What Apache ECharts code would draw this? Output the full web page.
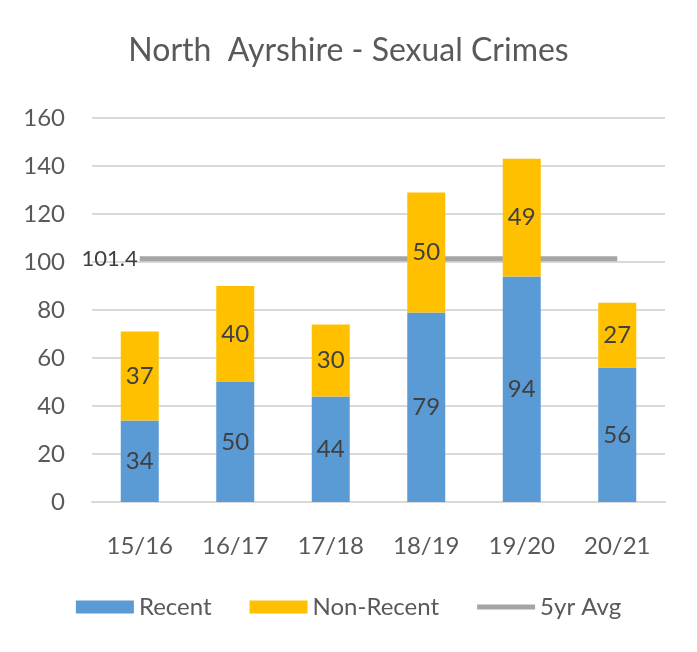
<!DOCTYPE html>
<html>
<head>
<meta charset="utf-8">
<script src="https://cdn.jsdelivr.net/npm/echarts@6/dist/echarts.min.js"></script>
<style>
  html, body { margin: 0; padding: 0; background: #fff; }
  #chart { width: 697px; height: 652px; }
</style>
</head>
<body>
<div id="chart"></div>
<script>
const categories = ["15/16", "16/17", "17/18", "18/19", "19/20", "20/21"];
const recent = [34, 50, 44, 79, 94, 56];
const nonRecent = [37, 40, 30, 50, 49, 27];
const avgValue = 101.4;
const avgLine = categories.map(() => avgValue);

const font = "Lato, 'Open Sans', sans-serif";
const chart = echarts.init(document.getElementById("chart"));

chart.setOption({
  backgroundColor: "#fff",
  textStyle: { fontFamily: font },
  title: {
    text: "North  Ayrshire - Sexual Crimes",
    left: "center",
    top: 30,
    textStyle: { fontSize: 32, fontWeight: "normal", color: "#595959", fontFamily: font }
  },
  legend: {
    bottom: 28,
    left: "center",
    itemWidth: 58,
    itemHeight: 13,
    itemGap: 38,
    textStyle: { fontSize: 24, color: "#595959", fontFamily: font },
    data: [
      { name: "Recent", icon: "rect" },
      { name: "Non-Recent", icon: "rect" },
      { name: "5yr Avg", icon: "path://M0,0 L60,0 L60,5 L0,5 Z", itemStyle: { color: "#A5A5A5" } }
    ]
  },
  grid: { left: 92, right: 32, top: 118, bottom: 150, containLabel: false },
  xAxis: {
    type: "category",
    data: categories,
    axisLine: { lineStyle: { color: "#d9d9d9", width: 2 } },
    axisTick: { show: false },
    axisLabel: { fontSize: 24, color: "#595959", margin: 32, fontFamily: font }
  },
  yAxis: {
    type: "value",
    min: 0,
    max: 160,
    interval: 20,
    axisLine: { show: false },
    axisTick: { show: false },
    axisLabel: { fontSize: 24, color: "#595959", margin: 27, fontFamily: font },
    splitLine: { lineStyle: { color: "#d9d9d9", width: 2 } }
  },
  series: [
    {
      name: "Recent",
      type: "bar",
      stack: "total",
      barWidth: 38,
      data: recent,
      itemStyle: { color: "#5B9BD5" },
      label: { show: true, position: "inside", fontSize: 24, color: "#404040", fontFamily: font }
    },
    {
      name: "Non-Recent",
      type: "bar",
      stack: "total",
      barWidth: 38,
      data: nonRecent,
      itemStyle: { color: "#FFC000" },
      label: { show: true, position: "inside", fontSize: 24, color: "#404040", fontFamily: font }
    },
    {
      name: "5yr Avg",
      type: "line",
      data: avgLine,
      symbol: "circle",
      symbolSize: 0,
      showSymbol: true,
      z: 1,
      lineStyle: { color: "#A5A5A5", width: 5 },
      itemStyle: { color: "#A5A5A5" },
      label: {
        show: true,
        position: "left",
        distance: 2,
        fontSize: 22,
        color: "#404040",
        fontFamily: font,
        formatter: (p) => (p.dataIndex === 0 ? String(avgValue) : "")
      }
    }
  ]
});
</script>
</body>
</html>
